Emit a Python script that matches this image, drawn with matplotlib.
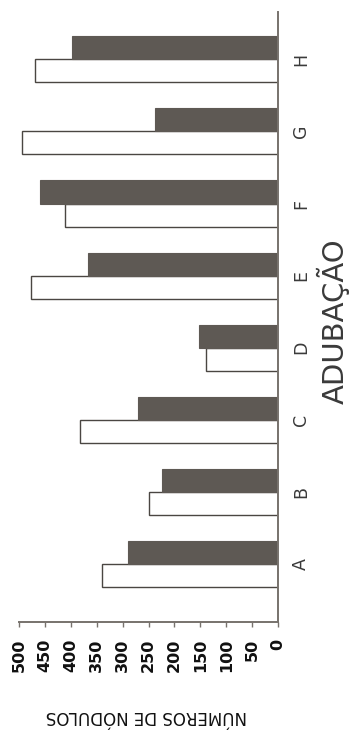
import matplotlib
matplotlib.use("Agg")
import matplotlib.pyplot as plt
import numpy as np

categories = ["A", "B", "C", "D", "E", "F", "G", "H"]
white_values = [340, 250, 382, 139, 477, 411, 495, 470]
dark_values = [290, 224, 271, 152, 366, 459, 237, 398]
xticks = [0, 50, 100, 150, 200, 250, 300, 350, 400, 450, 500]
xlabel = "NÚMEROS DE NÓDULOS"
ylabel = "ADUBAÇÃO"

W, H = 352, 732
fig = plt.figure(figsize=(W / 100, H / 100), dpi=100)
fig.patch.set_facecolor("white")
ax = fig.add_axes([19 / W, 110 / H, (278 - 19) / W, (720 - 110) / H])

y = np.arange(len(categories))
bh = 0.32
ax.barh(y - bh / 2, white_values, height=bh, color="white",
        edgecolor="#4a4642", linewidth=1.0)
ax.barh(y + bh / 2, dark_values, height=bh, color="#5e5954",
        edgecolor="#5e5954", linewidth=0.8)

ax.set_xlim(500, 0)
ax.set_ylim(-0.804, 7.656)

for s in ["left", "top"]:
    ax.spines[s].set_visible(False)
for s in ["right", "bottom"]:
    ax.spines[s].set_color("#77726d")
    ax.spines[s].set_linewidth(1.4)

ax.set_xticks(xticks)
ax.set_xticklabels([str(v) for v in xticks], rotation=90, fontsize=11.5,
                   fontweight="bold", color="#111111")
ax.tick_params(axis="x", direction="out", length=3.8, width=1.0,
               color="#77726d", pad=8)

ax.yaxis.tick_right()
ax.set_yticks(y)
ax.set_yticklabels(categories, rotation=90, fontsize=12.5, fontweight="normal",
                   color="#3a3a3a", va="center", ha="left")
ax.tick_params(axis="y", length=0, pad=10)

fig.text(146 / W, 1 - 716 / H, xlabel, rotation=180, ha="center",
         va="center", fontsize=12, color="#111111")
fig.text(333 / W, 1 - 321 / H, ylabel, rotation=90, ha="center",
         va="center", fontsize=21, fontweight="normal", color="#3a3a3a")

fig.savefig("out.png", dpi=100, facecolor="white")
